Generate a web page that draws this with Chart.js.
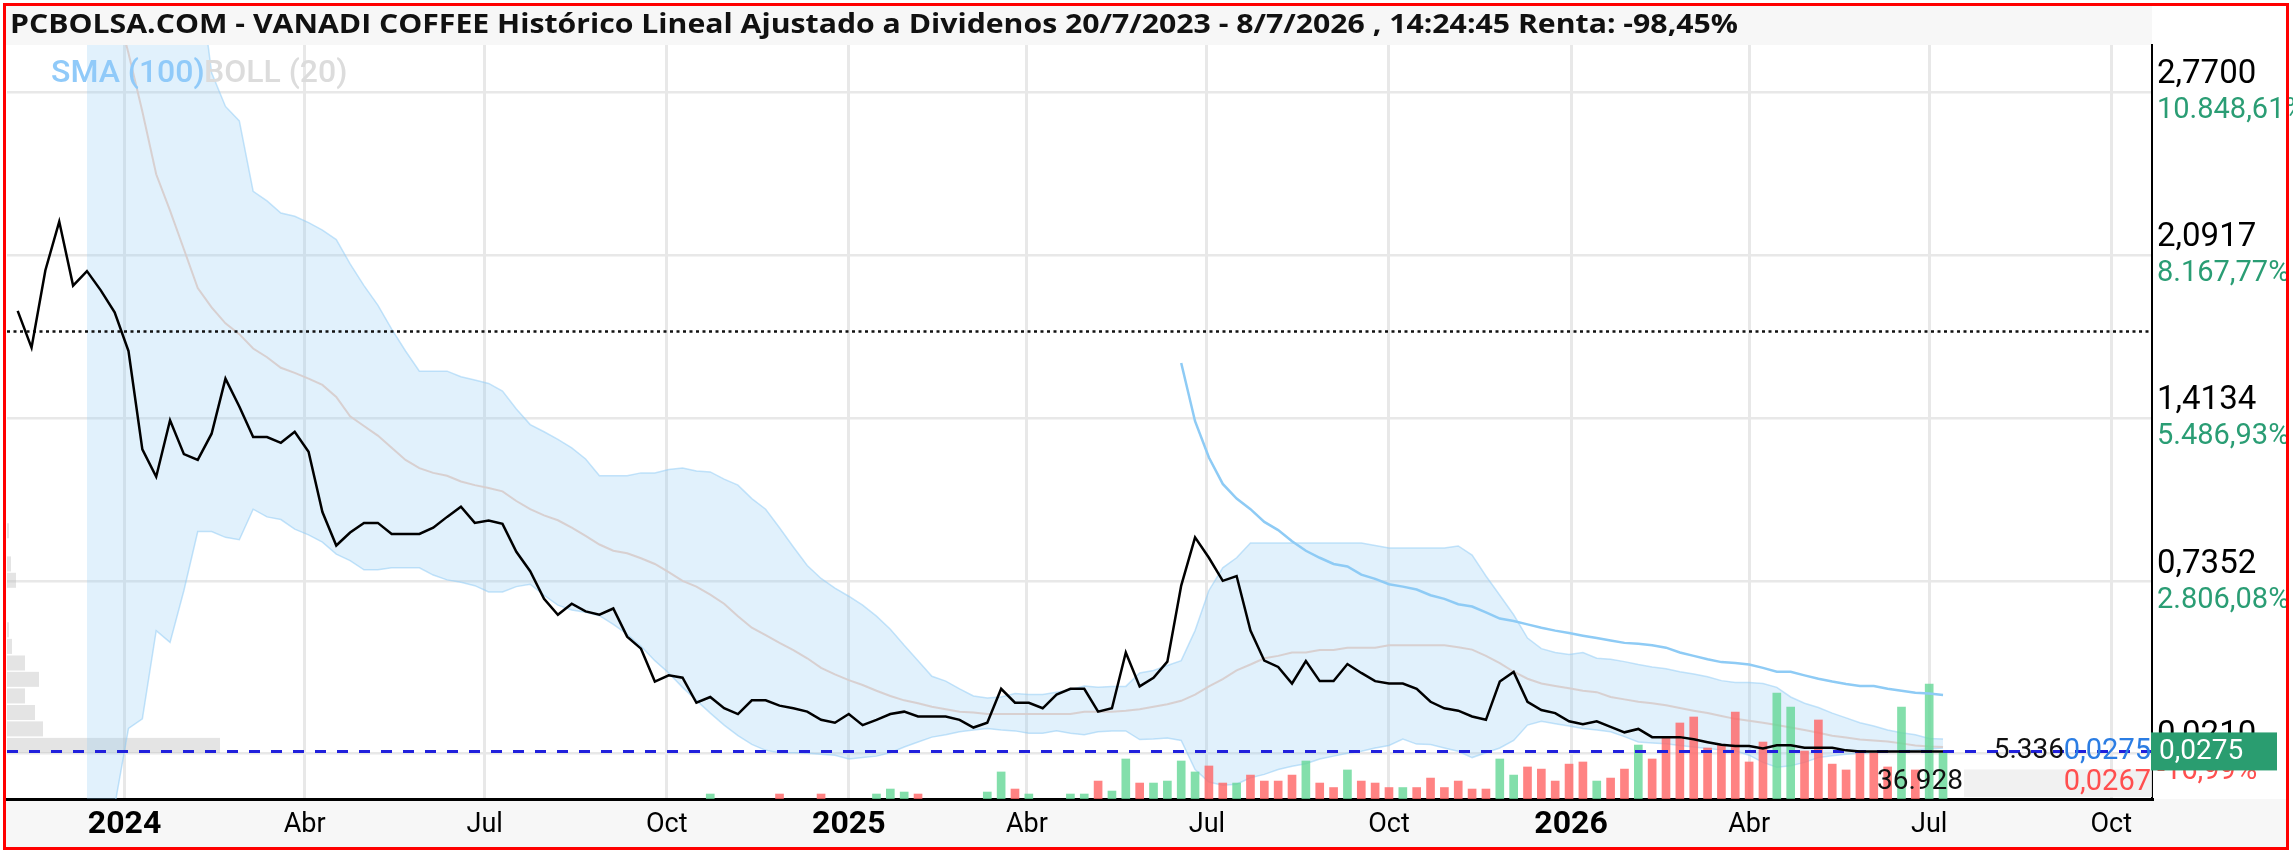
<!DOCTYPE html>
<html>
<head>
<meta charset="utf-8">
<script src="https://cdn.jsdelivr.net/npm/chart.js@4.4.1/dist/chart.umd.min.js"></script>
<style>
  html, body { margin: 0; padding: 0; background: #fff; }
  canvas { display: block; }
</style>
</head>
<body>
<canvas id="priceChart" width="2293" height="855"></canvas>
<script>
// weekly closes, first one on 7/11/2023 (day -54 counted from 1/1/2024)
const firstDay = -54;
const weekStep = 7;

const price = [
  1.860, 1.707, 2.029, 2.231, 1.965, 2.025, 1.945, 1.854, 1.693, 1.284,
  1.170, 1.405, 1.264, 1.240, 1.349, 1.578, 1.462, 1.335, 1.335, 1.311,
  1.357, 1.274, 1.023, 0.884, 0.938, 0.978, 0.978, 0.932, 0.932, 0.932,
  0.958, 1.003, 1.045, 0.978, 0.988, 0.974, 0.858, 0.777, 0.662, 0.596,
  0.642, 0.610, 0.596, 0.622, 0.505, 0.455, 0.318, 0.344, 0.334, 0.230,
  0.254, 0.207, 0.183, 0.240, 0.240, 0.218, 0.207, 0.193, 0.159, 0.147,
  0.183, 0.137, 0.159, 0.183, 0.193, 0.173, 0.173, 0.173, 0.159, 0.127,
  0.147, 0.288, 0.230, 0.230, 0.207, 0.264, 0.288, 0.288, 0.193, 0.207,
  0.439, 0.298, 0.334, 0.401, 0.717, 0.918, 0.833, 0.737, 0.757, 0.530,
  0.405, 0.379, 0.310, 0.403, 0.320, 0.320, 0.391, 0.354, 0.320, 0.310,
  0.310, 0.288, 0.234, 0.207, 0.197, 0.173, 0.159, 0.318, 0.358, 0.234,
  0.200, 0.187, 0.153, 0.141, 0.153, 0.130, 0.107, 0.121, 0.087, 0.087,
  0.087, 0.078, 0.066, 0.055, 0.050, 0.050, 0.040, 0.053, 0.053, 0.043,
  0.043, 0.043, 0.032, 0.0275, 0.0275, 0.0275, 0.0275, 0.0275, 0.0275, 0.0275,
];

const bollUp = [
  null, null, null, null, null, 6.5, 6.3, 6.4, 5.74, 5.2,
  4.33, 4.07, 3.54, 3.3, 2.85, 2.71, 2.65, 2.357, 2.317, 2.267,
  2.253, 2.227, 2.196, 2.156, 2.055, 1.965, 1.884, 1.784, 1.693, 1.609,
  1.609, 1.609, 1.586, 1.572, 1.558, 1.526, 1.452, 1.387, 1.357, 1.325,
  1.290, 1.244, 1.174, 1.174, 1.174, 1.186, 1.186, 1.200, 1.206, 1.194,
  1.190, 1.160, 1.135, 1.079, 1.035, 0.958, 0.878, 0.801, 0.747, 0.707,
  0.673, 0.636, 0.590, 0.536, 0.469, 0.405, 0.340, 0.320, 0.288, 0.258,
  0.250, 0.254, 0.268, 0.264, 0.264, 0.274, 0.284, 0.300, 0.294, 0.298,
  0.298, 0.354, 0.364, 0.385, 0.405, 0.530, 0.697, 0.791, 0.833, 0.894,
  0.894, 0.894, 0.894, 0.894, 0.894, 0.894, 0.894, 0.894, 0.884, 0.874,
  0.874, 0.874, 0.874, 0.874, 0.882, 0.844, 0.757, 0.677, 0.596, 0.499,
  0.455, 0.439, 0.431, 0.439, 0.415, 0.411, 0.401, 0.389, 0.379, 0.371,
  0.359, 0.350, 0.338, 0.322, 0.314, 0.314, 0.310, 0.294, 0.254, 0.228,
  0.210, 0.187, 0.167, 0.147, 0.133, 0.117, 0.105, 0.097, 0.081, 0.079,
];

const bollLow = [
  null, null, null, null, null, -0.8, -0.5, -0.2, 0.123, 0.163,
  0.530, 0.481, 0.697, 0.942, 0.942, 0.918, 0.908, 1.035, 1.003, 0.992,
  0.952, 0.928, 0.898, 0.848, 0.821, 0.783, 0.783, 0.791, 0.791, 0.791,
  0.761, 0.741, 0.731, 0.717, 0.691, 0.691, 0.713, 0.723, 0.677, 0.636,
  0.616, 0.606, 0.592, 0.556, 0.515, 0.465, 0.405, 0.354, 0.294, 0.240,
  0.187, 0.137, 0.093, 0.057, 0.032, 0.022, 0.022, 0.020, 0.016, 0.012,
  -0.004, 0.002, 0.008, 0.022, 0.046, 0.067, 0.087, 0.097, 0.109, 0.117,
  0.123, 0.117, 0.113, 0.103, 0.103, 0.113, 0.103, 0.097, 0.109, 0.113,
  0.113, 0.077, 0.079, 0.083, 0.073, -0.048, -0.100, -0.113, -0.109, -0.082,
  -0.068, -0.048, -0.034, -0.024, -0.004, 0.008, 0.020, 0.028, 0.042, 0.052,
  0.079, 0.058, 0.056, 0.042, 0.028, 0.002, 0.022, 0.042, 0.073, 0.137,
  0.153, 0.143, 0.133, 0.123, 0.117, 0.109, 0.089, 0.067, 0.063, 0.059,
  0.052, 0.046, 0.040, 0.034, 0.030, 0.012, -0.018, -0.038, -0.032, -0.018,
  0.002, 0.010, 0.016, 0.020, 0.022, 0.026, 0.030, 0.034, 0.038, 0.042,
];

const bollMid = [
  null, null, null, null, null, 3.5, 3.35, 3.15, 2.931, 2.689,
  2.428, 2.277, 2.116, 1.955, 1.874, 1.808, 1.763, 1.703, 1.667, 1.623,
  1.602, 1.578, 1.552, 1.502, 1.421, 1.381, 1.341, 1.290, 1.240, 1.206,
  1.186, 1.174, 1.150, 1.135, 1.123, 1.109, 1.069, 1.035, 1.009, 0.989,
  0.958, 0.924, 0.888, 0.862, 0.852, 0.831, 0.807, 0.773, 0.737, 0.713,
  0.680, 0.642, 0.590, 0.542, 0.511, 0.479, 0.449, 0.415, 0.375, 0.348,
  0.324, 0.304, 0.280, 0.258, 0.240, 0.228, 0.213, 0.203, 0.193, 0.189,
  0.183, 0.183, 0.183, 0.183, 0.183, 0.183, 0.183, 0.193, 0.193, 0.193,
  0.197, 0.203, 0.213, 0.224, 0.238, 0.264, 0.298, 0.328, 0.365, 0.389,
  0.415, 0.425, 0.439, 0.439, 0.449, 0.449, 0.459, 0.459, 0.459, 0.469,
  0.469, 0.469, 0.469, 0.469, 0.461, 0.451, 0.425, 0.395, 0.359, 0.330,
  0.310, 0.300, 0.290, 0.280, 0.274, 0.254, 0.244, 0.234, 0.228, 0.220,
  0.208, 0.197, 0.187, 0.175, 0.163, 0.155, 0.147, 0.137, 0.127, 0.117,
  0.105, 0.093, 0.085, 0.077, 0.073, 0.069, 0.061, 0.052, 0.048, 0.046,
];

// SMA(100) only exists from week 84 on
const smaStart = 84;
const sma100 = [
  1.643, 1.401, 1.250, 1.140, 1.079, 1.035,
  0.982, 0.948, 0.902, 0.862, 0.833, 0.807, 0.797, 0.763, 0.745, 0.723,
  0.713, 0.701, 0.677, 0.662, 0.640, 0.630, 0.606, 0.580, 0.570, 0.556,
  0.542, 0.530, 0.520, 0.509, 0.499, 0.489, 0.479, 0.475, 0.469, 0.459,
  0.439, 0.425, 0.411, 0.399, 0.395, 0.389, 0.375, 0.359, 0.359, 0.344,
  0.330, 0.318, 0.308, 0.300, 0.300, 0.288, 0.280, 0.272, 0.268, 0.262,
];

const volume = [
  0, 0, 0, 0, 0, 0, 0, 0, 0, 0,
  0, 0, 0, 0, 0, 0, 0, 0, 0, 0,
  0, 0, 0, 0, 0, 0, 0, 0, 0, 0,
  0, 0, 0, 0, 0, 0, 0, 0, 0, 0,
  0, 0, 0, 0, 0, 0, 0, 0, 0, 0,
  4000, 0, 0, 0, 0, 4000, 0, 0, 4000, 0,
  0, 0, 4000, 8000, 5600, 4000, 0, 0, 0, 0,
  5600, 21700, 8000, 4000, 0, 0, 4000, 4000, 14400, 6400,
  32100, 12800, 12800, 14400, 30500, 21700, 26500, 12800, 12800, 19200,
  14400, 14400, 19200, 30500, 12800, 9200, 23300, 14400, 12800, 9200,
  9200, 9200, 16800, 9200, 14400, 8000, 8000, 32100, 19200, 25700,
  24000, 14400, 28000, 29700, 14400, 16800, 24000, 43300, 32100, 49700,
  61000, 65800, 40900, 43300, 69800, 29700, 45700, 85000, 73800, 38500,
  63400, 28000, 23300, 38500, 36900, 25700, 73800, 23300, 92200, 36928,
];
// g = week closed up, r = week closed down
const volDir = (
  ".........." + ".........." + ".........." + ".........." + ".........." +
  "g....r..r." + "..gggr...." + "ggrg..ggrg" + "grggggrrgr" + "rrrgrrgrrr" +
  "grrrrrrggr" + "rrrrgrrgrr" + "rrrrrrrggr" + "rrrrrrgrgg"
).split("");

// volume by price, left side
const profileLow = [0.0193, 0.088, 0.156, 0.225, 0.294, 0.362, 0.431, 0.500, 0.568, 0.637, 0.706, 0.774, 0.843, 0.912];
const profileVol = [2130, 360, 280, 180, 320, 180, 50, 20, 0, 0, 90, 40, 0, 20];
const profileStep = 0.0687;

const xTickDays = [0, 91, 182, 274, 366, 456, 547, 639, 731, 821, 912, 1004];
const xTickLabels = ["2024", "Abr", "Jul", "Oct", "2025", "Abr", "Jul", "Oct", "2026", "Abr", "Jul", "Oct"];

const yTicks = [2.77, 2.0917, 1.4134, 0.7352, 0.021];
const yTickPct = ["10.848,61%", "8.167,77%", "5.486,93%", "2.806,08%", "-16,99%"];

const startPrice = 1.774;
const lastPrice = 0.0275;

const titleText = "PCBOLSA.COM - VANADI COFFEE Histórico Lineal Ajustado a Dividenos 20/7/2023 - 8/7/2026 , 14:24:45 Renta: -98,45%";

const COLORS = {
    up: "rgba(100, 215, 150, 0.8)",
    down: "rgba(255, 100, 100, 0.8)",
    band: "rgba(135, 200, 245, 0.25)",
    bandEdge: "rgba(150, 205, 245, 0.55)",
    mid: "rgba(215, 205, 205, 0.95)",
    sma: "#8ecbf5",
    green: "#2a9d74",
    red: "#ff4f4f",
};

const days = price.map((_, i) => firstDay + weekStep * i);
const toPoints = (arr, offset = 0) => arr.map((v, i) => ({ x: days[i + offset], y: v }));

const chartFrame = {
    id: "chartFrame",

    beforeDraw(chart) {
        const { ctx, width, height, chartArea } = chart;
        ctx.save();
        ctx.fillStyle = "#fff";
        ctx.fillRect(0, 0, width, height);
        ctx.fillStyle = "#f7f7f7";
        ctx.fillRect(5, 5, chartArea.right - 5, 40);
        ctx.fillRect(5, chartArea.bottom, width - 10, height - chartArea.bottom - 6);
        ctx.restore();
    },

    beforeDatasetsDraw(chart) {
        const { ctx, chartArea, scales } = chart;
        ctx.save();
        ctx.fillStyle = "rgba(185, 185, 185, 0.38)";
        profileLow.forEach((low, i) => {
            if (!profileVol[i]) return;
            const top = scales.y.getPixelForValue(low + profileStep);
            const bottom = scales.y.getPixelForValue(low);
            const right = scales.xProf.getPixelForValue(profileVol[i]);
            ctx.fillRect(chartArea.left, top + 1, right - chartArea.left, bottom - top - 1.5);
        });
        ctx.restore();
    },

    afterDatasetDraw(chart, args) {
        if (args.index !== 3) return;
        const { ctx, chartArea, scales } = chart;
        ctx.save();
        ctx.lineWidth = 2.5;
        ctx.strokeStyle = "#111";
        ctx.setLineDash([3, 3.5]);
        let y = scales.y.getPixelForValue(startPrice);
        ctx.beginPath();
        ctx.moveTo(chartArea.left, y);
        ctx.lineTo(chartArea.right, y);
        ctx.stroke();

        ctx.lineWidth = 3;
        ctx.strokeStyle = "#2020dc";
        ctx.setLineDash([11, 11]);
        y = scales.y.getPixelForValue(lastPrice);
        ctx.beginPath();
        ctx.moveTo(chartArea.left, y);
        ctx.lineTo(chartArea.right, y);
        ctx.stroke();
        ctx.restore();
    },

    afterDatasetsDraw(chart) {
        const { ctx } = chart;
        ctx.save();
        ctx.font = "500 32px Roboto";
        ctx.textBaseline = "alphabetic";
        ctx.fillStyle = "#90caf9";
        ctx.fillText("SMA (100)", 51, 82);
        ctx.fillStyle = "#dcdcdc";
        ctx.fillText("BOLL (20)", 204, 82);
        ctx.restore();
    },

    afterDraw(chart) {
        const { ctx, chartArea, scales } = chart;
        ctx.save();

        // percentage under each price tick
        ctx.font = "29px Roboto";
        ctx.textAlign = "left";
        ctx.textBaseline = "middle";
        yTicks.forEach((v, i) => {
            ctx.fillStyle = yTickPct[i].startsWith("-") ? COLORS.red : COLORS.green;
            ctx.fillText(yTickPct[i], chartArea.right + 5, scales.y.getPixelForValue(v) + 19);
        });

        const yLast = scales.y.getPixelForValue(lastPrice);

        ctx.fillStyle = "rgba(240, 240, 240, 0.9)";
        ctx.fillRect(1964, yLast + 18, chartArea.right - 1964, chartArea.bottom - yLast - 20);

        ctx.textAlign = "right";
        ctx.font = "28px Roboto";
        ctx.fillStyle = "#111";
        ctx.fillText("5.336", 2064, yLast);
        ctx.fillText("36.928", 1963, yLast + 31);
        ctx.font = "29px Roboto";
        ctx.fillStyle = "#2b7de3";
        ctx.fillText("0,0275", chartArea.right - 1, yLast);
        ctx.fillStyle = COLORS.red;
        ctx.fillText("0,0267", chartArea.right - 1, yLast + 31);

        // last price box on the axis
        ctx.fillStyle = "#2a9d70";
        ctx.fillRect(chartArea.right - 1, yLast - 19, 126, 38);
        ctx.fillStyle = "#fff";
        ctx.textAlign = "left";
        ctx.font = "28px Roboto";
        ctx.fillText("0,0275", chartArea.right + 7, yLast + 1);

        // title
        ctx.font = 'bold 26px "Open Sans"';
        const w = ctx.measureText(titleText).width;
        ctx.translate(10, 26);
        ctx.scale(1728 / w, 1);
        ctx.fillStyle = "#111";
        ctx.textAlign = "left";
        ctx.fillText(titleText, 0, 0);
        ctx.setTransform(1, 0, 0, 1, 0, 0);

        ctx.strokeStyle = "#ff0000";
        ctx.lineWidth = 3;
        ctx.strokeRect(4.5, 4.5, 2283, 844);
        ctx.restore();
    },
};

Chart.defaults.font.family = "Roboto";
Chart.defaults.color = "#000";

new Chart(document.getElementById("priceChart"), {
    type: "line",

    data: {
        datasets: [
            {
                label: "BOLL up",
                data: toPoints(bollUp),
                borderColor: COLORS.bandEdge,
                backgroundColor: COLORS.band,
                borderWidth: 1.5,
                fill: "+1",
                order: 6,
            },
            {
                label: "BOLL low",
                data: toPoints(bollLow),
                borderColor: COLORS.bandEdge,
                borderWidth: 1.5,
                fill: false,
                order: 6,
            },
            {
                label: "BOLL mid",
                data: toPoints(bollMid),
                borderColor: COLORS.mid,
                borderWidth: 2,
                fill: false,
                order: 5,
            },
            {
                type: "bar",
                label: "Volumen",
                data: volume.map((v, i) => ({ x: days[i], y: v || null })),
                backgroundColor: volDir.map((d) => (d === "g" ? COLORS.up : COLORS.down)),
                barThickness: 8,
                yAxisID: "yVol",
                order: 4,
            },
            {
                label: "SMA (100)",
                data: toPoints(sma100, smaStart),
                borderColor: COLORS.sma,
                borderWidth: 2.5,
                fill: false,
                order: 2,
            },
            {
                label: "VANADI COFFEE",
                data: toPoints(price),
                borderColor: "#000",
                borderWidth: 2.5,
                fill: false,
                order: 1,
            },
        ],
    },

    options: {
        responsive: false,
        devicePixelRatio: 1,
        animation: false,

        elements: {
            point: { radius: 0 },
            line: { tension: 0 },
        },

        layout: {
            padding: { top: 45, left: 7, right: 5, bottom: 7 },
        },

        plugins: {
            legend: { display: false },
            tooltip: { enabled: false },
        },

        scales: {
            x: {
                type: "linear",
                min: -59.4,
                max: 1024.6,
                offset: false,
                afterBuildTicks: (scale) => {
                    scale.ticks = xTickDays.map((v) => ({ value: v }));
                },
                afterFit: (scale) => {
                    scale.height = 49;
                },
                grid: {
                    offset: false,
                    color: "#e8e8e8",
                    lineWidth: 3,
                    drawTicks: false,
                },
                border: { color: "#000", width: 3 },
                ticks: {
                    autoSkip: false,
                    maxRotation: 0,
                    padding: 9,
                    color: "#000",
                    callback: (v, i) => xTickLabels[i],
                    font: (ctx) => {
                        const isYear = /^\d{4}$/.test(xTickLabels[ctx.index] || "");
                        return { family: "Roboto", size: isYear ? 32 : 27, weight: isYear ? "bold" : "normal", lineHeight: "34px" };
                    },
                },
            },

            xProf: {
                type: "linear",
                display: false,
                min: 0,
                max: 21450,
            },

            y: {
                position: "right",
                min: -0.1703,
                max: 2.9655,
                afterBuildTicks: (scale) => {
                    scale.ticks = yTicks.map((v) => ({ value: v }));
                },
                afterFit: (scale) => {
                    scale.width = 136;
                },
                grid: {
                    color: "#e8e8e8",
                    lineWidth: 2.5,
                    drawTicks: false,
                },
                border: { color: "#000", width: 2 },
                ticks: {
                    padding: 5,
                    labelOffset: -17,
                    color: "#000",
                    font: { size: 33 },
                    callback: (v) => v.toFixed(4).replace(".", ","),
                },
            },

            yVol: {
                display: false,
                min: 0,
                max: 605000,
            },
        },
    },

    plugins: [chartFrame],
});
</script>
</body>
</html>
